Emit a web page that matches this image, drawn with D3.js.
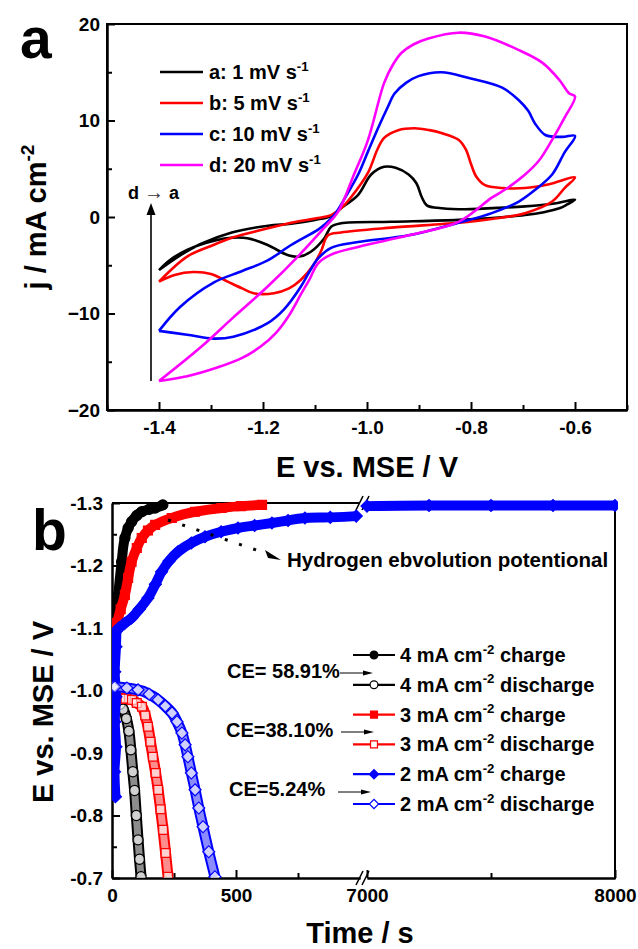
<!DOCTYPE html>
<html>
<head>
<meta charset="utf-8">
<script src="https://cdn.jsdelivr.net/npm/d3@7"></script>
<style>
body { margin: 0; background: #fff; }
text { font-family: "Liberation Sans", Arial, sans-serif; font-weight: bold; fill: #000; }
</style>
</head>
<body>
<svg id="fig" width="638" height="949"></svg>
<script>
// panel a : CV loops, [E (V), j (mA cm-2)], from -1.4 V anodic sweep then back
var cv_1 = [[-1.40,-5.5],[-1.36,-4.0],[-1.32,-2.8],[-1.26,-1.6],[-1.19,-0.9],[-1.146,-0.7],[-1.10,-0.3],
    [-1.069,0.1],[-1.05,0.9],[-1.017,2.3],[-0.992,4.4],[-0.967,5.2],[-0.945,5.1],[-0.92,4.4],[-0.905,3.5],
    [-0.895,2.1],[-0.885,1.2],[-0.865,0.95],[-0.824,0.8],[-0.75,0.95],[-0.696,1.1],[-0.64,1.4],[-0.60,1.8],
    [-0.615,1.3],[-0.63,0.9],[-0.66,0.5],[-0.696,0.2],[-0.76,-0.1],[-0.824,-0.3],[-0.953,-0.5],[-1.05,-0.65],
    [-1.069,-1.0],[-1.082,-2.2],[-1.108,-3.6],[-1.13,-4.1],[-1.15,-4.0],[-1.17,-3.5],[-1.191,-2.9],
    [-1.23,-2.2],[-1.26,-2.15],[-1.29,-2.4],[-1.346,-3.4],[-1.38,-4.5],[-1.40,-5.5]];
var cv_5 = [[-1.40,-6.7],[-1.346,-4.1],[-1.30,-3.0],[-1.257,-2.1],[-1.20,-1.3],[-1.146,-0.6],[-1.094,-0.1],
    [-1.069,0.2],[-1.05,0.9],[-1.03,2.1],[-0.998,4.6],[-0.98,7.0],[-0.967,8.2],[-0.94,9.0],[-0.909,9.2],
    [-0.88,9.0],[-0.857,8.7],[-0.824,8.0],[-0.81,7.0],[-0.80,5.5],[-0.79,4.2],[-0.773,3.3],[-0.74,3.0],
    [-0.696,3.0],[-0.65,3.4],[-0.60,4.1],
    [-0.62,3.0],[-0.644,1.6],[-0.696,0.4],[-0.76,-0.2],[-0.824,-0.6],[-0.953,-1.1],[-1.05,-1.6],
    [-1.075,-1.9],[-1.088,-3.5],[-1.102,-4.9],[-1.127,-6.5],[-1.15,-7.4],[-1.179,-7.9],[-1.218,-7.9],
    [-1.24,-7.4],[-1.268,-6.7],[-1.30,-5.9],[-1.334,-5.7],[-1.37,-6.0],[-1.40,-6.7]];
var cv_10 = [[-1.40,-11.8],[-1.359,-9.3],[-1.295,-6.8],[-1.24,-5.6],[-1.191,-4.5],[-1.146,-2.9],[-1.094,-1.3],
    [-1.082,-0.8],[-1.063,0.2],[-1.04,2.2],[-1.017,4.4],[-0.998,6.8],[-0.978,9.3],[-0.96,11.4],[-0.947,12.8],
    [-0.925,13.9],[-0.901,14.6],[-0.857,15.0],[-0.804,14.4],[-0.74,13.4],[-0.708,12.1],[-0.69,11.0],
    [-0.677,9.7],[-0.657,8.5],[-0.625,8.3],[-0.60,8.4],
    [-0.62,6.7],[-0.644,4.4],[-0.677,2.8],[-0.708,1.6],[-0.76,0.4],[-0.824,-0.6],[-0.92,-1.9],[-1.017,-2.6],
    [-1.069,-3.2],[-1.094,-4.3],[-1.11,-5.6],[-1.127,-7.2],[-1.16,-9.6],[-1.191,-11.0],[-1.257,-12.4],
    [-1.295,-12.6],[-1.346,-12.2],[-1.40,-11.8]];
var cv_20 = [[-1.40,-17.0],[-1.32,-13.5],[-1.257,-10.4],[-1.191,-7.2],[-1.133,-4.1],[-1.082,-1.1],[-1.056,0.5],
    [-1.025,4.4],[-0.998,8.0],[-0.967,13.9],[-0.95,15.8],[-0.934,17.0],[-0.91,17.9],[-0.882,18.5],
    [-0.824,19.1],[-0.773,18.7],[-0.708,17.3],[-0.663,16.0],[-0.63,14.2],[-0.611,12.8],[-0.60,12.5],
    [-0.62,10.3],[-0.644,8.0],[-0.67,5.8],[-0.696,4.4],[-0.73,3.0],[-0.76,2.0],[-0.824,-0.5],[-0.92,-1.9],
    [-1.017,-3.1],[-1.069,-3.9],[-1.094,-4.8],[-1.11,-6.4],[-1.127,-8.0],[-1.15,-10.2],[-1.175,-12.0],
    [-1.204,-13.4],[-1.24,-14.6],[-1.288,-15.6],[-1.346,-16.5],[-1.40,-17.0]];
var cv_labels = ["a: 1 mV s", "b: 5 mV s", "c: 10 mV s", "d: 20 mV s"];
var cv_colors = ["#000000", "#ff0000", "#0000ff", "#ff00ff"];
var a_x_ticks = [-1.4, -1.2, -1.0, -0.8, -0.6];
var a_x_minor = [-1.5, -1.3, -1.1, -0.9, -0.7, -0.5];
var a_y_ticks = [-20, -10, 0, 10, 20];
var a_y_minor = [-15, -5, 5, 15];

// panel b : galvanostatic curves, [time (s), E (V)]
var charge_4 = [[4,-1.02],[6,-1.06],[8,-1.09],[12,-1.105],[25,-1.153],[39,-1.206],[52,-1.244],[65,-1.26],
    [79,-1.27],[100,-1.28],[120,-1.286],[150,-1.29],[174,-1.292],[205,-1.297]];
var discharge_4 = [[20,-0.982],[32,-0.978],[45,-0.97],[58,-0.955],[68,-0.935],[76,-0.905],[84,-0.87],
    [91,-0.84],[98,-0.80],[105,-0.761],[111,-0.73],[117,-0.702]];
var charge_3 = [[8,-0.86],[5,-0.90],[9,-0.95],[5,-1.0],[9,-1.05],[10,-1.09],[20,-1.108],[35,-1.13],[52,-1.153],
    [65,-1.18],[79,-1.206],[100,-1.228],[120,-1.244],[145,-1.256],[174,-1.265],[241,-1.276],[335,-1.286],
    [442,-1.292],[520,-1.295],[605,-1.297]];
var discharge_3 = [[12,-0.99],[32,-0.988],[55,-0.987],[81,-0.985],[100,-0.98],[121,-0.974],[134,-0.96],
    [145,-0.942],[155,-0.918],[165,-0.894],[176,-0.868],[186,-0.841],[196,-0.81],[206,-0.777],[216,-0.74],
    [226,-0.702]];
var charge_2 = [[14,-0.83],[10,-0.87],[16,-0.91],[11,-0.95],[16,-0.99],[11,-1.03],[16,-1.07],[18,-1.095],
    [28,-1.10],[50,-1.107],[79,-1.116],[110,-1.13],[145,-1.148],[175,-1.17],[200,-1.19],[230,-1.207],
    [266,-1.222],[320,-1.236],[375,-1.246],[440,-1.254],[508,-1.26],[575,-1.264],[645,-1.268],[710,-1.272],
    [778,-1.276],[880,-1.277],[985,-1.279],[7000,-1.295],[7250,-1.296],[7500,-1.296],[7750,-1.296],[8000,-1.296]];
var discharge_2 = [[5,-1.006],[12,-1.006],[60,-1.004],[105,-1.001],[150,-0.994],[186,-0.985],[215,-0.975],
    [242,-0.964],[262,-0.95],[282,-0.932],[295,-0.913],[306,-0.894],[320,-0.868],[335,-0.841],[350,-0.812],
    [367,-0.782],[390,-0.742],[415,-0.702]];
var gcd_labels = ["4 mA cm", "4 mA cm", "3 mA cm", "3 mA cm", "2 mA cm", "2 mA cm"];
var gcd_modes = [" charge", " discharge", " charge", " discharge", " charge", " discharge"];
var ce_labels = ["CE= 58.91%", "CE=38.10%", "CE=5.24%"];
var b_x_ticks1 = [0, 500], b_x_minor1 = [250, 750];
var b_x_ticks2 = [7000, 8000], b_x_minor2 = [7500];
var b_y_ticks = [-1.3, -1.2, -1.1, -1.0, -0.9, -0.8, -0.7];
var b_y_minor = [-1.25, -1.15, -1.05, -0.95, -0.85, -0.75];

var FONT = '"Liberation Sans", Arial, sans-serif';
var svg = d3.select("#fig");

function style_axis(g, size){
    g.attr("font-family", FONT).attr("font-size", size).attr("font-weight", "bold");
    g.selectAll("path").attr("stroke-width", 2);
    g.selectAll("line").attr("stroke-width", 2);
    g.selectAll("text").style("fill", "#000");
}

// text with a superscript in the middle
function sup_text(parent, x, y, main, sup, rest, size){
    var t = parent.append("text").attr("x", x).attr("y", y).attr("font-size", size);
    t.append("tspan").text(main);
    t.append("tspan").attr("dy", -size * 0.42).attr("font-size", size * 0.66).text(sup);
    if (rest) t.append("tspan").attr("dy", size * 0.42).text(rest);
    return t;
}

// ================= panel a =================
var xA = d3.scaleLinear().domain([-1.5, -0.5]).range([107, 627]);
var yA = d3.scaleLinear().domain([-20, 20]).range([410, 24]);
var ga = svg.append("g");

ga.append("g").attr("transform", "translate(0,410)")
    .call(d3.axisBottom(xA).tickValues(a_x_ticks).tickSizeInner(-8).tickSizeOuter(0).tickPadding(11)
        .tickFormat(function(d){ return d.toFixed(1); }))
    .call(style_axis, 19);
ga.append("g").attr("transform", "translate(0,410)")
    .call(d3.axisBottom(xA).tickValues(a_x_minor).tickSizeInner(-5).tickSizeOuter(0).tickFormat(""))
    .call(style_axis, 19);
ga.append("g").attr("transform", "translate(107,0)")
    .call(d3.axisLeft(yA).tickValues(a_y_ticks).tickSizeInner(-8).tickSizeOuter(0).tickPadding(7))
    .call(style_axis, 19);
ga.append("g").attr("transform", "translate(107,0)")
    .call(d3.axisLeft(yA).tickValues(a_y_minor).tickSizeInner(-5).tickSizeOuter(0).tickFormat(""))
    .call(style_axis, 19);
ga.append("rect").attr("x", 107).attr("y", 24).attr("width", 520).attr("height", 386)
    .attr("fill", "none").attr("stroke", "#000").attr("stroke-width", 2);

var cv_line = d3.line()
    .x(function(d){ return xA(d[0]); })
    .y(function(d){ return yA(d[1]); })
    .curve(d3.curveCatmullRom.alpha(0.5));

var cv_all = [cv_1, cv_5, cv_10, cv_20];
for (var i = 0; i < cv_all.length; i ++){
    ga.append("path").attr("d", cv_line(cv_all[i]))
        .attr("fill", "none").attr("stroke", cv_colors[i]).attr("stroke-width", 2.6)
        .attr("stroke-linejoin", "round");
}

// legend
for (var i = 0; i < 4; i ++){
    var ly = 72 + i * 31;
    ga.append("line").attr("x1", 160).attr("x2", 203).attr("y1", ly).attr("y2", ly)
        .attr("stroke", cv_colors[i]).attr("stroke-width", 2.6);
    sup_text(ga, 209, ly + 7, cv_labels[i], "-1", null, 20);
}

// d -> a arrow
ga.append("line").attr("x1", 151).attr("x2", 151).attr("y1", 381).attr("y2", 210)
    .attr("stroke", "#000").attr("stroke-width", 1.6);
ga.append("path").attr("d", "M151,203 L146.5,215 L155.5,215 Z").attr("fill", "#000");
var da = ga.append("text").attr("x", 128).attr("y", 199).attr("font-size", 18);
da.append("tspan").text("d ");
da.append("tspan").attr("font-weight", "normal").attr("font-size", 20).style("fill", "#333").text("\u2192");
da.append("tspan").text(" a");

ga.append("text").attr("x", 20).attr("y", 58).attr("font-size", 57).text("a");
ga.append("text").attr("x", 367).attr("y", 477).attr("text-anchor", "middle").attr("font-size", 29)
    .text("E vs. MSE / V");
sup_text(ga, 0, 0, "j / mA cm", "-2", null, 29)
    .attr("text-anchor", "middle")
    .attr("transform", "translate(46,217) rotate(-90)");

// ================= panel b =================
var yB = d3.scaleLinear().domain([-0.7, -1.3]).range([878, 503]);
var xB1 = d3.scaleLinear().domain([0, 1000]).range([112, 360]);
var xB2 = d3.scaleLinear().domain([7000, 8000]).range([367, 615]);
function xB(t){ return t <= 1000 ? xB1(t) : xB2(t); }

var gb = svg.append("g");
var scales_b = [[xB1, b_x_ticks1, b_x_minor1], [xB2, b_x_ticks2, b_x_minor2]];
scales_b.forEach(function(s){
    gb.append("g").attr("transform", "translate(0,878)")
        .call(d3.axisBottom(s[0]).tickValues(s[1]).tickSizeInner(-8).tickSizeOuter(0).tickPadding(11)
            .tickFormat(d3.format("d")))
        .call(style_axis, 19);
    gb.append("g").attr("transform", "translate(0,878)")
        .call(d3.axisBottom(s[0]).tickValues(s[2]).tickSizeInner(-5).tickSizeOuter(0).tickFormat(""))
        .call(style_axis, 19);
    gb.append("line").attr("x1", s[0].range()[0]).attr("x2", s[0].range()[1])
        .attr("y1", 503).attr("y2", 503).attr("stroke", "#000").attr("stroke-width", 2);
});
gb.append("g").attr("transform", "translate(112,0)")
    .call(d3.axisLeft(yB).tickValues(b_y_ticks).tickSizeInner(-8).tickSizeOuter(0).tickPadding(9)
        .tickFormat(function(d){ return d.toFixed(1); }))
    .call(style_axis, 19);
gb.append("g").attr("transform", "translate(112,0)")
    .call(d3.axisLeft(yB).tickValues(b_y_minor).tickSizeInner(-5).tickSizeOuter(0).tickFormat(""))
    .call(style_axis, 19);
gb.append("line").attr("x1", 615).attr("x2", 615).attr("y1", 503).attr("y2", 879)
    .attr("stroke", "#000").attr("stroke-width", 2);

// axis break marks
[503, 878].forEach(function(by){
    for (var k = 0; k < 2; k ++){
        gb.append("line").attr("x1", 356 + k * 6).attr("y1", by + 7).attr("x2", 363 + k * 6).attr("y2", by - 7)
            .attr("stroke", "#000").attr("stroke-width", 1.6);
    }
});

gb.append("clipPath").attr("id", "clip-b").append("rect")
    .attr("x", 112).attr("y", 497).attr("width", 506).attr("height", 381);
var plot_b = gb.append("g").attr("clip-path", "url(#clip-b)");

var gcd_line = d3.line()
    .x(function(d){ return xB(d[0]); })
    .y(function(d){ return yB(d[1]); })
    .curve(d3.curveMonotoneY);

var gcd_series = [
    {data: charge_4, color: "#000000", shape: d3.symbolCircle, size: 80, rot: 0, open: false},
    {data: discharge_4, color: "#000000", shape: d3.symbolCircle, size: 80, rot: 0, open: true},
    {data: charge_3, color: "#ff0000", shape: d3.symbolSquare, size: 80, rot: 0, open: false},
    {data: discharge_3, color: "#ff0000", shape: d3.symbolSquare, size: 80, rot: 0, open: true},
    {data: charge_2, color: "#0000ff", shape: d3.symbolSquare, size: 72, rot: 45, open: false},
    {data: discharge_2, color: "#0000ff", shape: d3.symbolSquare, size: 72, rot: 45, open: true}
];

gcd_series.forEach(function(s){
    var parts = [s.data.filter(function(d){ return d[0] <= 1000; }),
                 s.data.filter(function(d){ return d[0] >= 7000; })];
    parts.forEach(function(p){
        if (p.length < 2) return;
        plot_b.append("path").attr("d", gcd_line(p)).attr("fill", "none")
            .attr("stroke", s.color).attr("stroke-width", s.open ? 11 : 10).attr("stroke-linejoin", "round");
        if (s.open){
            plot_b.append("path").attr("d", gcd_line(p)).attr("fill", "none")
                .attr("stroke", "#fff").attr("stroke-opacity", 0.55).attr("stroke-width", 7);
        }
    });
    plot_b.selectAll(null).data(s.data).enter().append("path")
        .attr("d", d3.symbol().type(s.shape).size(s.size))
        .attr("transform", function(d){
            return "translate(" + xB(d[0]) + "," + yB(d[1]) + ") rotate(" + s.rot + ")";
        })
        .attr("fill", s.open ? "#fff" : s.color)
        .attr("fill-opacity", s.open ? 0.6 : 1)
        .attr("stroke", s.color).attr("stroke-width", 1.2);
});

// hydrogen evolution annotation
gb.append("line").attr("x1", 168).attr("y1", 520).attr("x2", 268).attr("y2", 554)
    .attr("stroke", "#000").attr("stroke-width", 3).attr("stroke-dasharray", "3,12");
gb.append("path").attr("d", "M281,560 L265,550 L268,558 Z").attr("fill", "#000");
gb.append("text").attr("x", 287).attr("y", 567).attr("font-size", 20.5).text("Hydrogen ebvolution potentional");

// legend
for (var i = 0; i < 6; i ++){
    var ly = 655 + i * 29.8;
    var s = gcd_series[i];
    gb.append("line").attr("x1", 353).attr("x2", 395).attr("y1", ly).attr("y2", ly)
        .attr("stroke", s.color).attr("stroke-width", 2.2);
    gb.append("path").attr("d", d3.symbol().type(s.shape).size(s.size * 0.6))
        .attr("transform", "translate(374," + ly + ") rotate(" + s.rot + ")")
        .attr("fill", s.open ? "#fff" : s.color).attr("stroke", s.color).attr("stroke-width", 1.2);
    sup_text(gb, 400, ly + 7, gcd_labels[i], "-2", gcd_modes[i], 20);
}

// coulombic efficiency labels
var ce_y = [678, 737, 796], ce_x = [227, 226, 229], ce_arrow = [[340, 673], [341, 732], [338, 792]];
for (var i = 0; i < 3; i ++){
    gb.append("text").attr("x", ce_x[i]).attr("y", ce_y[i]).attr("font-size", 20).text(ce_labels[i]);
    var ax = ce_arrow[i][0], ay = ce_arrow[i][1];
    gb.append("line").attr("x1", ax).attr("x2", ax + 26).attr("y1", ay).attr("y2", ay)
        .attr("stroke", "#000").attr("stroke-width", 1);
    gb.append("path").attr("d", "M" + (ax + 33) + "," + ay + " L" + (ax + 23) + "," + (ay - 2.5) +
        " L" + (ax + 23) + "," + (ay + 2.5) + " Z").attr("fill", "#000");
}

gb.append("text").attr("x", 32).attr("y", 550).attr("font-size", 57).text("b");
gb.append("text").attr("x", 360).attr("y", 943).attr("text-anchor", "middle").attr("font-size", 29)
    .text("Time / s");
gb.append("text").attr("text-anchor", "middle").attr("font-size", 29)
    .attr("transform", "translate(53,712) rotate(-90)").text("E vs. MSE / V");
</script>
</body>
</html>
